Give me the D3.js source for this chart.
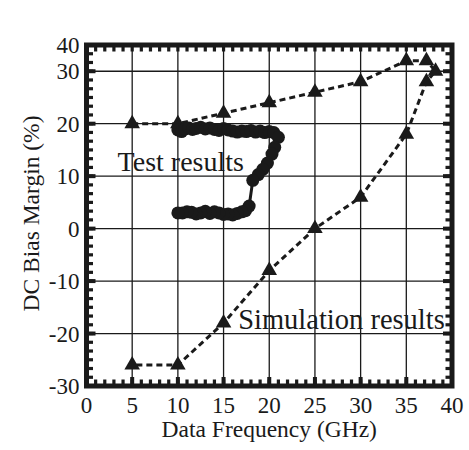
<!DOCTYPE html>
<html>
<head>
<meta charset="utf-8">
<script src="https://cdn.jsdelivr.net/npm/d3@7"></script>
<style>
  body { margin: 0; background: #fff; }
  text { font-family: "Liberation Serif", "Times New Roman", serif; fill: #1a1a1a; }
</style>
</head>
<body>
<svg id="chart" width="469" height="450"></svg>
<script>
// simulated margin (triangles, dashed), traced around the loop
const simFreq = [5, 10, 15, 20, 25, 30, 35, 37.2, 38.2, 37.2, 35, 30, 25, 20, 15, 10, 5];
const simMargin = [20, 20, 22, 24, 26, 28, 32, 32, 30, 28, 18, 6, 0, -8, -18, -26, -26];

// measured margin (filled circles)
const testFreq = [10.0, 10.4, 10.8, 11.2, 11.6, 12.0, 12.5, 13.0, 13.5, 14.0, 14.5, 15.0, 15.5, 16.0, 16.5,
                  17.0, 17.5, 18.0, 18.5, 19.0, 19.5, 20.0, 20.5, 21.0, 20.6, 20.3, 19.8, 19.3, 18.8, 18.2,
                  17.8, 17.4, 17.0, 16.5, 16.0, 15.5, 15.0, 14.5, 14.0, 13.5, 13.0, 12.5, 12.0, 11.5, 11.0, 10.5, 10.0];
const testMargin = [18.8, 18.5, 19.0, 19.2, 18.9, 19.1, 19.3, 19.0, 19.2, 18.9, 18.7, 19.1, 18.8, 18.6, 18.4,
                    18.6, 18.5, 18.7, 18.4, 18.6, 18.3, 18.5, 18.3, 17.4, 15.5, 14.2, 12.5, 11.3, 10.3, 9.2,
                    4.3, 3.4, 3.2, 2.9, 2.6, 2.8, 2.7, 3.0, 3.2, 2.9, 3.3, 3.0, 2.8, 3.1, 3.2, 3.0, 3.0];

const xTicks = [0, 5, 10, 15, 20, 25, 30, 35, 40];
const yTicks = [-30, -20, -10, 0, 10, 20, 30, 40];

const svg = d3.select('#chart');
const margin = {top: 45, right: 17, bottom: 64, left: 86.5};
const width = +svg.attr('width') - margin.left - margin.right;
const height = +svg.attr('height') - margin.top - margin.bottom;
const ink = '#1a1a1a';

const g = svg.append('g')
    .attr('transform', `translate(${margin.left},${margin.top})`);

const x = d3.scaleLinear().domain([0, 40]).range([0, width]);

// the frame is cut just above 32 in the source, so the top stretch is squeezed
const perUnit = height / 65;
const y = d3.scaleLinear()
    .domain([-30, 32, 40])
    .range([height, height - 62 * perUnit, 0]);

// grid
g.append('g').selectAll('line')
    .data(xTicks.slice(1, -1))
    .enter().append('line')
    .attr('x1', d => x(d)).attr('x2', d => x(d))
    .attr('y1', 0).attr('y2', height)
    .attr('stroke', ink).attr('stroke-width', 1.3);

g.append('g').selectAll('line')
    .data(yTicks.slice(1, -1))
    .enter().append('line')
    .attr('x1', 0).attr('x2', width)
    .attr('y1', d => y(d)).attr('y2', d => y(d))
    .attr('stroke', ink).attr('stroke-width', 1.3);

// minor ticks on all four sides
const xMinor = d3.range(0, 41, 1);
const yMinor = d3.range(0, 61).map(i => height - i * height / 39);
g.append('g').selectAll('rect')
    .data(xMinor)
    .enter().append('rect')
    .attr('x', d => x(d) - 1.6).attr('y', height - 6.5)
    .attr('width', 3.2).attr('height', 6.5)
    .attr('fill', ink);
g.append('g').selectAll('rect')
    .data(xMinor)
    .enter().append('rect')
    .attr('x', d => x(d) - 1.6).attr('y', 0)
    .attr('width', 3.2).attr('height', 6.5)
    .attr('fill', ink);
g.append('g').selectAll('rect')
    .data(yMinor.filter(v => v >= 0))
    .enter().append('rect')
    .attr('x', 0).attr('y', d => d - 1.6)
    .attr('width', 6.5).attr('height', 3.2)
    .attr('fill', ink);
g.append('g').selectAll('rect')
    .data(yMinor.filter(v => v >= 0))
    .enter().append('rect')
    .attr('x', width - 6.5).attr('y', d => d - 1.6)
    .attr('width', 6.5).attr('height', 3.2)
    .attr('fill', ink);

// major ticks
g.append('g').selectAll('rect')
    .data(xTicks)
    .enter().append('rect')
    .attr('x', d => x(d) - 2).attr('y', height - 9)
    .attr('width', 4).attr('height', 9)
    .attr('fill', ink);
g.append('g').selectAll('rect')
    .data(yTicks)
    .enter().append('rect')
    .attr('x', 0).attr('y', d => y(d) - 2)
    .attr('width', 9).attr('height', 4)
    .attr('fill', ink);
g.append('g').selectAll('rect')
    .data(yTicks)
    .enter().append('rect')
    .attr('x', width - 9).attr('y', d => y(d) - 2)
    .attr('width', 9).attr('height', 4)
    .attr('fill', ink);

// frame
g.append('rect')
    .attr('x', 0).attr('y', 0)
    .attr('width', width).attr('height', height)
    .attr('fill', 'none')
    .attr('stroke', ink)
    .attr('stroke-width', 5);

// tick labels
g.append('g').selectAll('text')
    .data(xTicks)
    .enter().append('text')
    .attr('x', d => x(d))
    .attr('y', height + 27)
    .attr('text-anchor', 'middle')
    .attr('font-size', 23)
    .text(d => d);

g.append('g').selectAll('text')
    .data(yTicks)
    .enter().append('text')
    .attr('x', -7)
    .attr('y', d => y(d) + 8)
    .attr('text-anchor', 'end')
    .attr('font-size', 23)
    .text(d => d);

// axis titles
svg.append('text')
    .attr('x', margin.left + width / 2)
    .attr('y', 437)
    .attr('text-anchor', 'middle')
    .attr('font-size', 23.5)
    .text('Data Frequency (GHz)');

svg.append('text')
    .attr('transform', `translate(39,${margin.top + height / 2 - 2}) rotate(-90)`)
    .attr('text-anchor', 'middle')
    .attr('font-size', 23.5)
    .text('DC Bias Margin (%)');

// simulation series
const simData = simFreq.map((f, i) => ({f, m: simMargin[i]}));
const line = d3.line().x(d => x(d.f)).y(d => y(d.m));

g.append('path')
    .datum(simData)
    .attr('d', line)
    .attr('fill', 'none')
    .attr('stroke', ink)
    .attr('stroke-width', 3)
    .attr('stroke-dasharray', '6,4');

g.append('g').selectAll('path')
    .data(simData)
    .enter().append('path')
    .attr('transform', d => `translate(${x(d.f)},${y(d.m)})`)
    .attr('d', d3.symbol().type(d3.symbolTriangle).size(105))
    .attr('fill', ink);

// test series
const testData = testFreq.map((f, i) => ({f, m: testMargin[i]}));

g.append('path')
    .datum(testData)
    .attr('d', line)
    .attr('fill', 'none')
    .attr('stroke', ink)
    .attr('stroke-width', 3);

g.append('g').selectAll('circle')
    .data(testData)
    .enter().append('circle')
    .attr('cx', d => x(d.f))
    .attr('cy', d => y(d.m))
    .attr('r', 6.5)
    .attr('fill', ink);

// annotations
g.append('text')
    .attr('x', x(3.4))
    .attr('y', y(11.0))
    .attr('font-size', 28)
    .text('Test results');

g.append('text')
    .attr('x', x(16.6))
    .attr('y', y(-19.1))
    .attr('font-size', 28.5)
    .text('Simulation results');
</script>
</body>
</html>
